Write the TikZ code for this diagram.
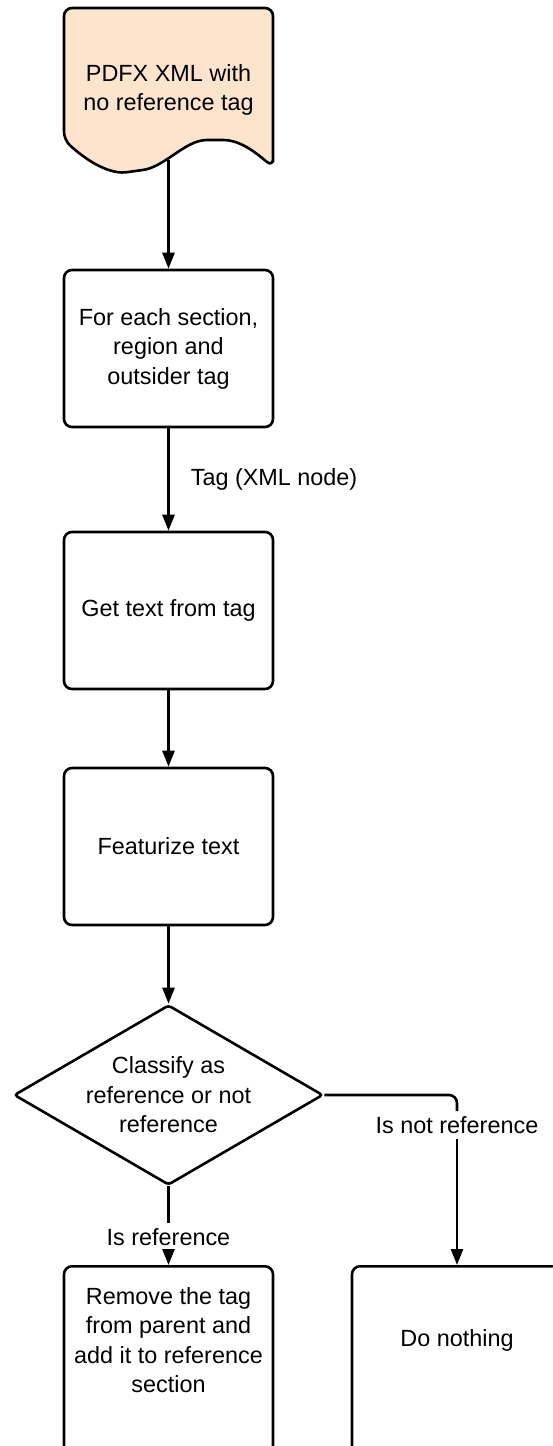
\documentclass[tikz,border=0pt]{standalone}
\usepackage{fontspec}
\setmainfont{Liberation Sans}
\usetikzlibrary{arrows.meta,positioning,shapes.geometric}
\definecolor{Peach}{HTML}{FCE4CD}

\begin{document}
\begin{tikzpicture}[x=1pt,y=-1pt,line width=2.6pt,
    font=\fontsize{23.4}{29.5}\selectfont,
    stepbox/.style={draw,rounded corners=8pt,minimum width=209pt,
      minimum height=157pt,align=center,inner sep=0pt},
    flow/.style={-{Triangle[length=16pt,width=12pt]}},
    branchlabel/.style={inner sep=4pt}]
  \useasboundingbox (0,0) rectangle (553,1446);
  \clip (0,0) rectangle (553,1446);
  % input document
  \draw[fill=Peach,rounded corners=8pt] (273,167) -- (273,8) -- (64,8) -- (64,140)
    .. controls (95,168) and (115,174) .. (135,171)
    .. controls (165,167) and (185,140) .. (215,140)
    .. controls (240,140) and (255,152) .. (273,167) -- cycle;
  \node[align=center] (pdfx) at (168.5,90) {PDFX XML with\\no reference tag};
  \coordinate (pdfxbot) at (168.5,160);
  % steps
  \node[stepbox] (each) at (168.5,348.5) {For each section,\\region and\\outsider tag};
  \node[stepbox] (gettext) at (168.5,610.5) {Get text from tag};
  \node[stepbox] (featurize) at (168.5,846.5) {Featurize text};
  \node[draw,diamond,aspect=1.72,inner sep=0pt,minimum width=309pt,
    minimum height=180pt,align=center,rounded corners=3pt]
    (classify) at (168.5,1095) {Classify as\\reference or not\\reference};
  \node[stepbox,minimum height=200pt,anchor=north] (removebox) at (168.5,1265) {};
  \node[align=center] (remove) at (168.5,1340)
    {Remove the tag\\from parent and\\add it to reference\\section};
  \node[stepbox,minimum width=210pt,minimum height=200pt,anchor=north]
    (nothingbox) at (457,1265) {};
  \node (nothing) at (457,1340) {Do nothing};
  % branch labels
  \node[branchlabel] (isref) at (168.5,1237) {Is reference};
  \node[branchlabel] (isnot) at (457,1125) {Is not reference};
  % connectors
  \draw[flow] (pdfxbot) -- (each.north);
  \draw[flow] (each.south) -- node[right=19pt,inner sep=2pt] {Tag (XML node)} (gettext.north);
  \draw[flow] (gettext.south) -- (featurize.north);
  \draw[flow] (featurize.south) -- (classify.north);
  \draw (classify.south) -- (isref.north);
  \draw[flow] (isref.south) -- (removebox.north);
  \draw[rounded corners=8pt] (classify.east) -| (isnot.north);
  \draw[flow] (isnot.south) -- (nothingbox.north);
\end{tikzpicture}
\end{document}
